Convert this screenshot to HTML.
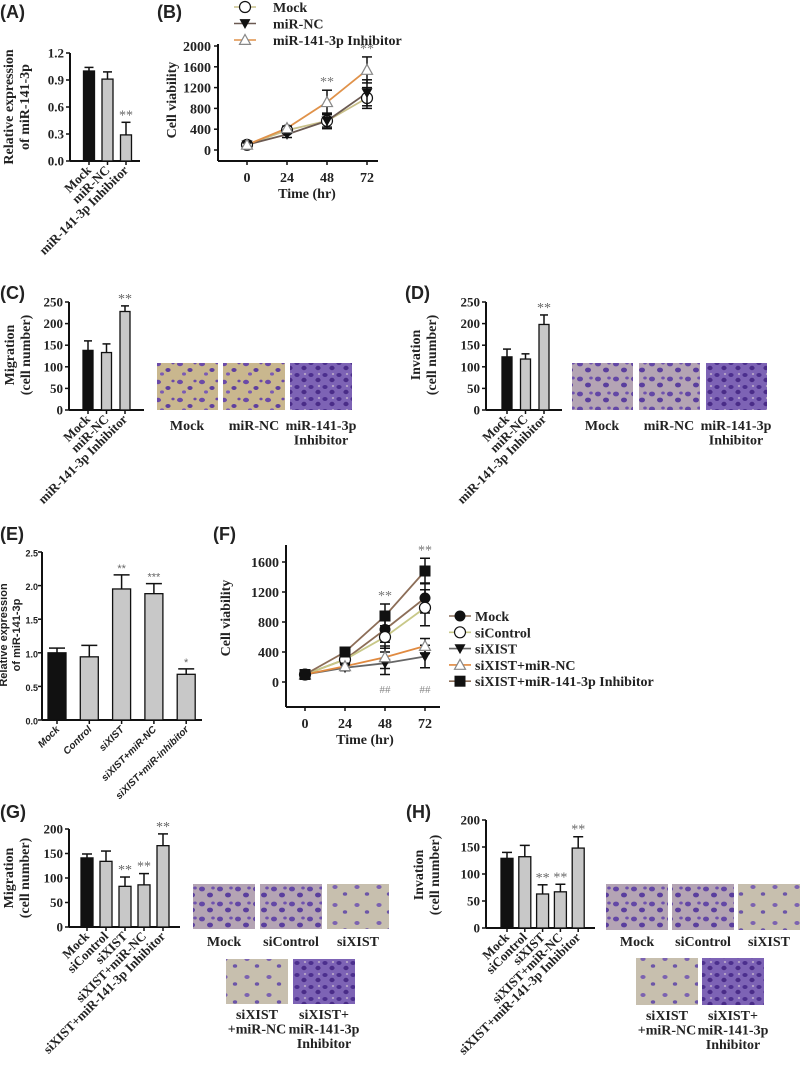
<!DOCTYPE html>
<html><head><meta charset="utf-8">
<style>
html,body{margin:0;padding:0;background:#fff;}
svg{display:block;}
text{font-family:"Liberation Serif",serif;font-weight:bold;fill:#222;}
.sans{font-family:"Liberation Sans",sans-serif;}
</style></head>
<body>
<svg id="fig" width="800" height="1069" viewBox="0 0 800 1069" xmlns="http://www.w3.org/2000/svg">
<defs>
<pattern id="pSparse" width="22" height="18" patternUnits="userSpaceOnUse">
<rect width="22" height="18" fill="#c9b78e"/>
<ellipse cx="4" cy="4" rx="3" ry="2.2" fill="#6b4aa8"/><ellipse cx="14" cy="10" rx="2.6" ry="2" fill="#5e3f9e"/>
<ellipse cx="8" cy="14" rx="2" ry="1.6" fill="#7a5ab4"/><ellipse cx="19" cy="3" rx="1.6" ry="1.4" fill="#6b4aa8"/>
</pattern>
<pattern id="pPale" width="22" height="18" patternUnits="userSpaceOnUse">
<rect width="22" height="18" fill="#c7bfae"/>
<ellipse cx="5" cy="5" rx="2.6" ry="2" fill="#7b62b0"/><ellipse cx="15" cy="12" rx="2.2" ry="1.8" fill="#6c55a8"/>
</pattern>
<pattern id="pDense" width="14" height="12" patternUnits="userSpaceOnUse">
<rect width="14" height="12" fill="#7d63b5"/>
<ellipse cx="3" cy="3" rx="2.6" ry="2" fill="#4c2f8e"/><ellipse cx="10" cy="8" rx="2.6" ry="2.2" fill="#4a2c88"/>
<ellipse cx="11" cy="2" rx="1.2" ry="1" fill="#b9a7c8"/>
</pattern>
<pattern id="pMed" width="18" height="15" patternUnits="userSpaceOnUse">
<rect width="18" height="15" fill="#b4a4b4"/>
<ellipse cx="4" cy="4" rx="3" ry="2.4" fill="#6347a6"/><ellipse cx="12" cy="10" rx="3" ry="2.4" fill="#5a3e9e"/>
<ellipse cx="15" cy="3" rx="1.8" ry="1.5" fill="#6f52ae"/>
</pattern>
</defs>
</svg>
<script>
// ---------- DATA ----------
const aCats = ["Mock","miR-NC","miR-141-3p Inhibitor"];
const aVals = [1.0, 0.91, 0.29];
const aErr = [0.04, 0.08, 0.14];
const aStars = ["","","**"];

const bTimes = [0,24,48,72];
const bSeries = ["Mock","miR-NC","miR-141-3p Inhibitor"];
const bMock = [100, 380, 560, 1000];
const bMockErr = [40, 40, 120, 200];
const bNC = [100, 300, 560, 1100];
const bNCErr = [40, 60, 150, 250];
const bInh = [100, 420, 920, 1540];
const bInhErr = [40, 40, 230, 250];
const bStars = ["","","**","**"];
const bTicks = [0,400,800,1200,1600,2000];

const cCats = ["Mock","miR-NC","miR-141-3p Inhibitor"];
const cVals = [138, 133, 228];
const cErr = [22, 20, 13];
const cStars = ["","","**"];
const dVals = [123, 118, 198];
const dErr = [18, 12, 22];
const dStars = ["","","**"];
const cdTicks = [0,50,100,150,200,250];

const eCats = ["Mock","Control","siXIST","siXIST+miR-NC","siXIST+miR-inhibitor"];
const eVals = [1.0, 0.94, 1.95, 1.88, 0.68];
const eErr = [0.07, 0.17, 0.21, 0.15, 0.08];
const eStars = ["","","**","***","*"];
const eTicks = [0.0,0.5,1.0,1.5,2.0,2.5];

const fTimes = [0,24,48,72];
const fSeries = ["Mock","siControl","siXIST","siXIST+miR-NC","siXIST+miR-141-3p Inhibitor"];
const fMock = [100, 300, 700, 1120];
const fMockErr = [30, 40, 170, 200];
const fCtrl = [100, 300, 600, 990];
const fCtrlErr = [30, 40, 150, 240];
const fSi = [100, 190, 250, 340];
const fSiErr = [30, 40, 150, 150];
const fSiNC = [100, 210, 330, 480];
const fSiNCErr = [30, 40, 150, 100];
const fInh = [100, 400, 880, 1480];
const fInhErr = [30, 30, 160, 170];
const fStars = ["","","**","**"];
const fHash = ["","","##","##"];
const fTicks = [0,400,800,1200,1600];

const gCats = ["Mock","siControl","siXIST","siXIST+miR-NC","siXIST+miR-141-3p Inhibitor"];
const gVals = [141, 134, 83, 86, 166];
const gErr = [8, 21, 19, 23, 24];
const gStars = ["","","**","**","**"];
const hVals = [129, 132, 63, 67, 148];
const hErr = [11, 21, 17, 14, 21];
const hStars = ["","","**","**","**"];
const ghTicks = [0,50,100,150,200];

// ---------- DRAW HELPERS ----------
const svg = document.getElementById('fig');
const NS = "http://www.w3.org/2000/svg";
function mk(tag, attrs, parent){
  const e = document.createElementNS(NS, tag);
  for (const k in attrs) e.setAttribute(k, attrs[k]);
  (parent||svg).appendChild(e);
  return e;
}
function txt(str, x, y, size, anchor, parent, extra){
  const t = mk('text', Object.assign({x:x, y:y, 'font-size':size, 'text-anchor':anchor||'start'}, extra||{}), parent);
  t.textContent = str;
  return t;
}
function grp(name){
  const g = mk('g', {});
  
  
  return g;
}
function panelLetter(s, x, y){
  const t = txt(s, x, y, 18, 'start', svg, {class:'sans'});
  
  
}
function yTitle(lines, x, cy, size, g, sans){
  lines.forEach((l,i)=>{
    const t = txt(l, x + i*(size+2), cy, size, 'middle', g, {transform:`rotate(-90 ${x + i*(size+2)} ${cy})`, class: sans?'sans':''});
    
    
  });
}

function barChart(o){
  const g = grp(o.name);
  const max = o.ticks[o.ticks.length-1];
  const ys = v => o.baseY - (v/max)*(o.baseY - o.topY);
  const xs = i => o.firstX + i*o.step;
  const ya = mk('line', {x1:o.axisX, y1:o.topY, x2:o.axisX, y2:o.baseY, stroke:'#111', 'stroke-width':2}, g);
  
  
  const xa = mk('line', {x1:o.axisX, y1:o.baseY, x2:o.axisEnd, y2:o.baseY, stroke:'#111', 'stroke-width':2}, g);
  
  
  o.ticks.forEach(tv=>{
    const y = ys(tv);
    mk('line', {x1:o.axisX-4, y1:y, x2:o.axisX, y2:y, stroke:'#111', 'stroke-width':1.5}, g);
    const lab = txt(o.fmt ? o.fmt(tv) : String(tv), o.axisX-(o.tickGap||6), y+4.5, o.tickSize||13, 'end', g, {class:o.sans?'sans':''});
    
    
  });
  o.vals.forEach((v,i)=>{
    const cx = xs(i), top = ys(v), et = ys(v + o.err[i]);
    const b = mk('rect', {x:cx-o.barW/2, y:top, width:o.barW, height:o.baseY-top, fill: i===0?'#111':'#c8c8c8', stroke:'#111', 'stroke-width':1.3}, g);
    
    
    mk('line', {x1:cx, y1:top, x2:cx, y2:et, stroke:'#111', 'stroke-width':1.5}, g);
    mk('line', {x1:cx-o.barW/2+1, y1:et, x2:cx+o.barW/2-1, y2:et, stroke:'#111', 'stroke-width':1.5}, g);
    mk('line', {x1:cx, y1:o.baseY, x2:cx, y2:o.baseY+4, stroke:'#111', 'stroke-width':1.5}, g);
    if (o.stars[i]) {
      const s = txt(o.stars[i], cx, et-3, o.starSize||14, 'middle', g, {fill:'#666', style:'font-weight:normal;fill:#666', class:o.sans?'sans':''});
      
      
    }
    const lx = cx + 3, ly = o.baseY + 10;
    const l = txt(o.labels ? o.labels[i] : o.cats[i], lx, ly, o.labSize||13, 'end', g, {transform:`rotate(-45 ${lx} ${ly})`, class:o.sans?'sans':'', style:o.italic?'font-style:italic':''});
    
    
  });
  yTitle(o.title, o.titleX, o.titleY, o.titleSize||14, g, o.sans);
}

function marker(type, x, y, r, g){
  let e;
  if (type==='circle-open') e = mk('circle', {cx:x, cy:y, r:r, fill:'#fff', stroke:'#111', 'stroke-width':1.2}, g);
  else if (type==='circle-fill') e = mk('circle', {cx:x, cy:y, r:r, fill:'#111'}, g);
  else if (type==='tri-down') e = mk('polygon', {points:`${x-r},${y-r*0.8} ${x+r},${y-r*0.8} ${x},${y+r}`, fill:'#111'}, g);
  else if (type==='tri-open') e = mk('polygon', {points:`${x-r},${y+r*0.8} ${x+r},${y+r*0.8} ${x},${y-r}`, fill:'#fff', stroke:'#888', 'stroke-width':1.2}, g);
  else e = mk('rect', {x:x-r, y:y-r, width:2*r, height:2*r, fill:'#111'}, g);
  return e;
}

function lineChart(o){
  const g = grp(o.name);
  const max = o.ticks[o.ticks.length-1];
  const ys = v => o.zeroY - (v/max)*(o.zeroY - o.topY);
  const xs = t => o.x0 + (t/24)*o.step24;
  const ya = mk('line', {x1:o.axisX, y1:o.axisTop, x2:o.axisX, y2:o.xAxisY, stroke:'#111', 'stroke-width':2}, g);
  
  
  const xa = mk('line', {x1:o.axisX, y1:o.xAxisY, x2:o.axisEnd, y2:o.xAxisY, stroke:'#111', 'stroke-width':2}, g);
  
  
  o.ticks.forEach(tv=>{
    const y = ys(tv);
    mk('line', {x1:o.axisX-4, y1:y, x2:o.axisX, y2:y, stroke:'#111', 'stroke-width':1.5}, g);
    const lab = txt(String(tv), o.axisX-7, y+5, 14, 'end', g);
    
    
  });
  o.times.forEach(t=>{
    const x = xs(t);
    mk('line', {x1:x, y1:o.xAxisY, x2:x, y2:o.xAxisY+4, stroke:'#111', 'stroke-width':1.5}, g);
    const lab = txt(String(t), x, o.xAxisY+21, 14, 'middle', g);
    
    
  });
  const xt = txt('Time (hr)', xs(36), o.xAxisY+37, 14, 'middle', g);
  
  
  yTitle(o.title, o.titleX, o.titleY, 14, g);
  o.series.forEach(s=>{
    const pts = s.vals.map((v,i)=>`${xs(o.times[i])},${ys(v)}`).join(' ');
    const pl = mk('polyline', {points:pts, fill:'none', stroke:s.color, 'stroke-width':1.8}, g);
    
    
  });
  o.series.forEach(s=>{
    s.vals.forEach((v,i)=>{
      const x = xs(o.times[i]);
      const e1 = ys(v + s.err[i]), e2 = ys(Math.max(0, v - s.err[i]));
      mk('line', {x1:x, y1:e1, x2:x, y2:e2, stroke:'#111', 'stroke-width':1.5}, g);
      mk('line', {x1:x-5, y1:e1, x2:x+5, y2:e1, stroke:'#111', 'stroke-width':1.5}, g);
      mk('line', {x1:x-5, y1:e2, x2:x+5, y2:e2, stroke:'#111', 'stroke-width':1.5}, g);
      const m = marker(s.marker, x, ys(v), 5.5, g);
      
      
    });
  });
  o.times.forEach((t,i)=>{
    if (o.stars[i]) {
      const top = Math.max(...o.series.map(s=>s.vals[i] + s.err[i]));
      const st = txt(o.stars[i], xs(t), ys(top)-4, 14, 'middle', g, {style:'font-weight:normal;fill:#777'});
      
      
    }
    if (o.hash && o.hash[i]) {
      const h = txt(o.hash[i], xs(t), o.hashY, 11, 'middle', g, {style:'font-weight:normal;fill:#888'});
      
      
    }
  });
  o.series.forEach((s,i)=>{
    const y = o.legY + i*o.legStep;
    const lg = mk('g', {}, g);
    
    
    mk('line', {x1:o.legX-11, y1:y, x2:o.legX+11, y2:y, stroke:s.color, 'stroke-width':1.6}, lg);
    marker(s.marker, o.legX, y, 5.5, lg);
    txt(s.name, o.legX + o.legTextDx, y+5, 14, 'start', lg);
  });
}

function micro(x, y, w, h, pat, name){
  const r = mk('rect', {x:x, y:y, width:w, height:h, fill:`url(#${pat})`});
  
  
}
function caption(lines, cx, y){
  lines.forEach((l,i)=>{
    const t = txt(l, cx, y + i*14.5, 14, 'middle');
    
    
  });
}

// ---------- PANELS ----------
panelLetter('(A)', 0, 18); panelLetter('(B)', 157, 18);
panelLetter('(C)', 0, 299); panelLetter('(D)', 405, 299);
panelLetter('(E)', 0, 540); panelLetter('(F)', 213, 540);
panelLetter('(G)', 0, 818); panelLetter('(H)', 406, 818);

barChart({name:'chart-a', cats:aCats, vals:aVals, err:aErr, stars:aStars, ticks:[0,0.3,0.6,0.9,1.2], fmt:v=>v.toFixed(1),
  axisX:70, baseY:161, topY:53, firstX:89, step:18.5, barW:11, axisEnd:140, title:['Relative expression','of miR-141-3p'], titleX:13, titleY:107});

lineChart({name:'chart-b', times:bTimes, ticks:bTicks, stars:bStars,
  axisX:218, axisTop:44, xAxisY:161, axisEnd:378, zeroY:150, topY:46, x0:247, step24:40,
  title:['Cell viability'], titleX:176, titleY:100,
  legX:245, legY:7, legStep:16.5, legTextDx:28,
  series:[
    {key:'mock', name:bSeries[0], vals:bMock, err:bMockErr, color:'#c9c08a', marker:'circle-open'},
    {key:'mir-nc', name:bSeries[1], vals:bNC, err:bNCErr, color:'#6b5a52', marker:'tri-down'},
    {key:'inhibitor', name:bSeries[2], vals:bInh, err:bInhErr, color:'#e0924a', marker:'tri-open'}
  ]});

barChart({name:'chart-c', cats:cCats, labels:['Mock','miR-NC','miR-141-3p Inhibitor'], vals:cVals, err:cErr, stars:cStars, ticks:cdTicks,
  axisX:69, baseY:410, topY:302, firstX:88, step:18.5, barW:10, axisEnd:144, title:['Migration','(cell number)'], titleX:14, titleY:355});
barChart({name:'chart-d', cats:cCats, vals:dVals, err:dErr, stars:dStars, ticks:cdTicks,
  axisX:486, baseY:410, topY:302, firstX:507, step:18.5, barW:10, axisEnd:562, title:['Invation','(cell number)'], titleX:420, titleY:355});

micro(157,363,61,47,'pSparse','micrograph-c-mock'); micro(223,363,62,47,'pSparse','micrograph-c-mir-nc'); micro(290,363,62,47,'pDense','micrograph-c-inhibitor');
caption(['Mock'],187,430); caption(['miR-NC'],254,430); caption(['miR-141-3p','Inhibitor'],321,430);
micro(572,363,61,47,'pMed','micrograph-d-mock'); micro(639,363,61,47,'pMed','micrograph-d-mir-nc'); micro(706,363,61,47,'pDense','micrograph-d-inhibitor');
caption(['Mock'],602,430); caption(['miR-NC'],669,430); caption(['miR-141-3p','Inhibitor'],736,430);

barChart({name:'chart-e', cats:eCats, vals:eVals, err:eErr, stars:eStars, ticks:eTicks, fmt:v=>v.toFixed(1), sans:true, italic:true,
  tickSize:9, tickGap:4, labSize:10, starSize:11,
  axisX:42, baseY:720, topY:552, firstX:57, step:32.3, barW:18, axisEnd:202, title:['Relative expression','of miR-141-3p'], titleX:7, titleY:635, titleSize:11});

lineChart({name:'chart-f', times:fTimes, ticks:fTicks, stars:fStars, hash:fHash, hashY:693,
  axisX:286, axisTop:545, xAxisY:707, axisEnd:440, zeroY:682, topY:562, x0:305, step24:40,
  title:['Cell viability'], titleX:230, titleY:618,
  legX:460, legY:616, legStep:16.3, legTextDx:15,
  series:[
    {key:'mock', name:fSeries[0], vals:fMock, err:fMockErr, color:'#8c6e58', marker:'circle-fill'},
    {key:'sicontrol', name:fSeries[1], vals:fCtrl, err:fCtrlErr, color:'#c8c888', marker:'circle-open'},
    {key:'sixist', name:fSeries[2], vals:fSi, err:fSiErr, color:'#666', marker:'tri-down'},
    {key:'sixist-mir-nc', name:fSeries[3], vals:fSiNC, err:fSiNCErr, color:'#e08a40', marker:'tri-open'},
    {key:'sixist-inhibitor', name:fSeries[4], vals:fInh, err:fInhErr, color:'#8c6e58', marker:'square'}
  ]});

barChart({name:'chart-g', cats:gCats, vals:gVals, err:gErr, stars:gStars, ticks:ghTicks,
  axisX:69, baseY:927, topY:829, firstX:87, step:19, barW:12, axisEnd:180, title:['Migration','(cell number)'], titleX:13, titleY:878});
barChart({name:'chart-h', cats:gCats, vals:hVals, err:hErr, stars:hStars, ticks:ghTicks,
  axisX:486, baseY:928, topY:820, firstX:507, step:17.8, barW:12, axisEnd:595, title:['Invation','(cell number)'], titleX:423, titleY:875});

micro(193,884,62,45,'pMed','micrograph-g-mock'); micro(260,884,62,45,'pMed','micrograph-g-sicontrol'); micro(327,884,62,45,'pPale','micrograph-g-sixist');
micro(226,959,62,45,'pPale','micrograph-g-sixist-mir-nc'); micro(293,959,62,45,'pDense','micrograph-g-sixist-inhibitor');
caption(['Mock'],224,946); caption(['siControl'],291,946); caption(['siXIST'],358,946);
caption(['siXIST','+miR-NC'],257,1019); caption(['siXIST+','miR-141-3p','Inhibitor'],324,1019);

micro(606,884,62,46,'pMed','micrograph-h-mock'); micro(672,884,62,46,'pMed','micrograph-h-sicontrol'); micro(738,884,62,46,'pPale','micrograph-h-sixist');
micro(636,958,62,47,'pPale','micrograph-h-sixist-mir-nc'); micro(702,958,62,47,'pDense','micrograph-h-sixist-inhibitor');
caption(['Mock'],637,946); caption(['siControl'],703,946); caption(['siXIST'],769,946);
caption(['siXIST','+miR-NC'],667,1020); caption(['siXIST+','miR-141-3p','Inhibitor'],733,1020);
</script>
</body></html>
